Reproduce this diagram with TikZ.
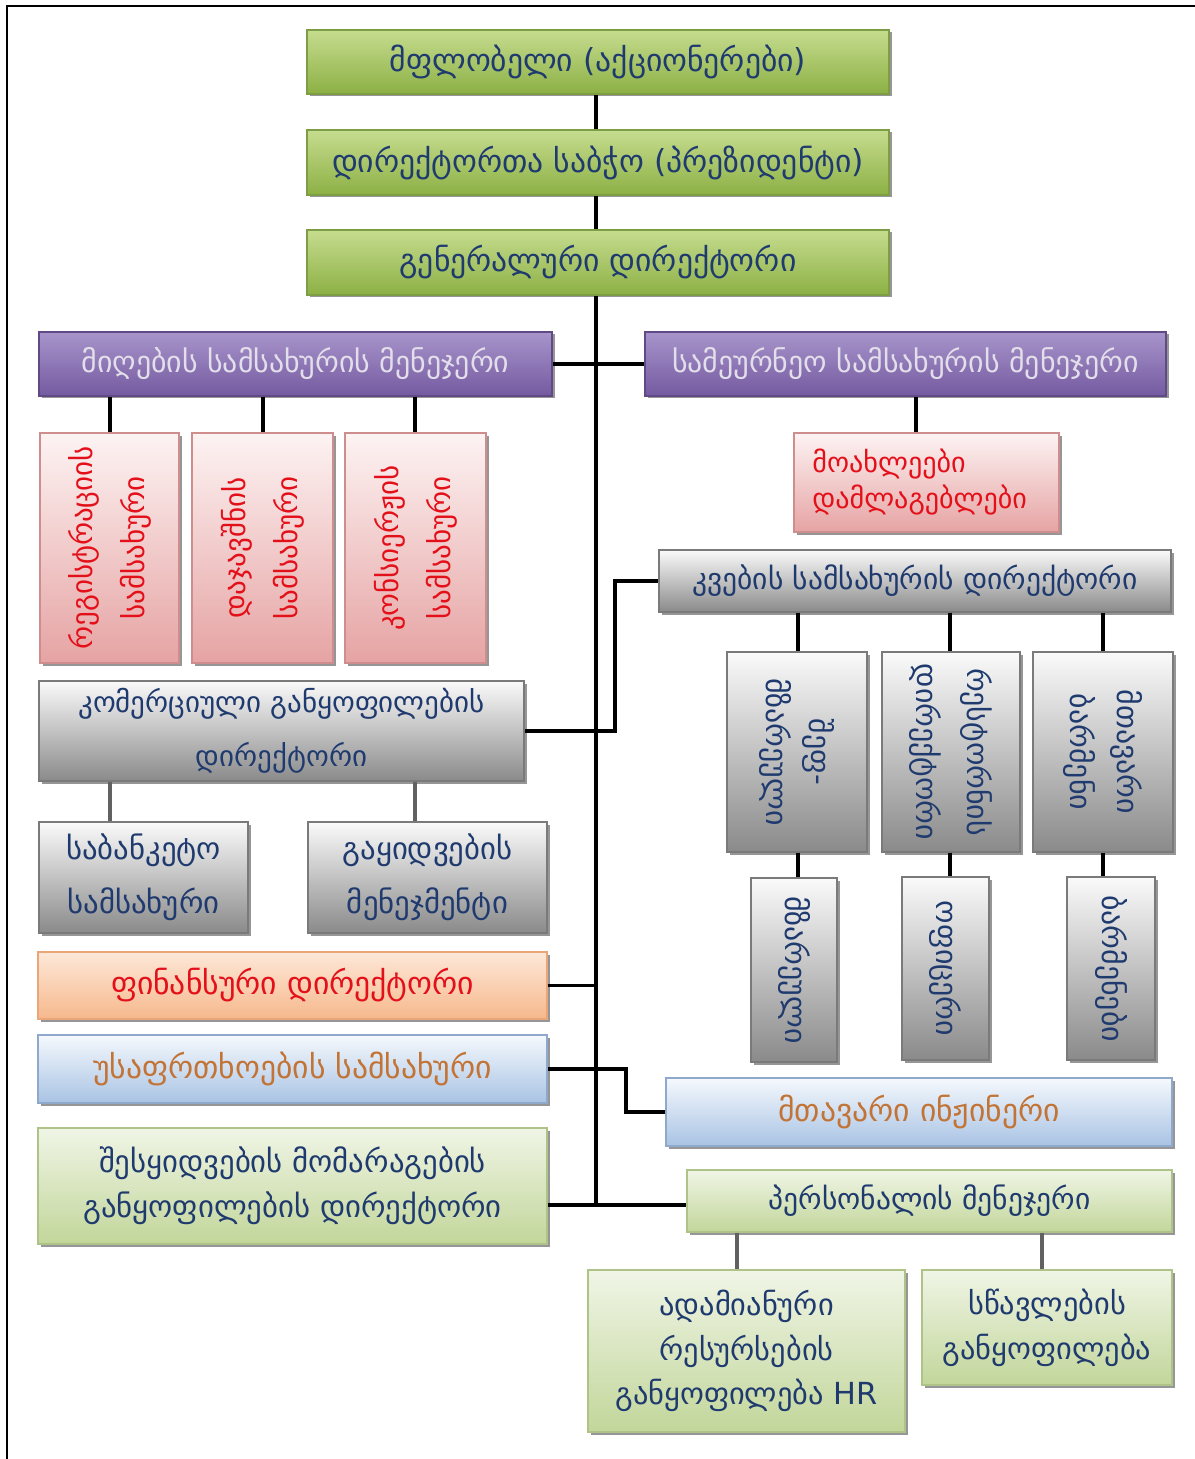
\documentclass[tikz,border=0pt]{standalone}
\usepackage{fontspec}
\setmainfont{DejaVu Sans}
\usetikzlibrary{shadows,calc}

\definecolor{navy}{HTML}{1F3A6E}
\definecolor{gTop}{HTML}{C6DC8F}
\definecolor{gBot}{HTML}{8CB044}
\definecolor{gDraw}{HTML}{7E9E45}
\definecolor{pTop}{HTML}{A895CB}
\definecolor{pBot}{HTML}{7459A0}
\definecolor{pDraw}{HTML}{5F4A85}
\definecolor{pText}{HTML}{E2DEEA}
\definecolor{rTop}{HTML}{FDF3F3}
\definecolor{rBot}{HTML}{E6A3A3}
\definecolor{rDraw}{HTML}{CF8E8E}
\definecolor{rText}{HTML}{E3101A}
\definecolor{kTop}{HTML}{FAFAFA}
\definecolor{kBot}{HTML}{8A8A8A}
\definecolor{kDraw}{HTML}{7A7A7A}
\definecolor{oTop}{HTML}{FDE8D8}
\definecolor{oBot}{HTML}{F6B88C}
\definecolor{oDraw}{HTML}{E8A679}
\definecolor{bTop}{HTML}{F5F9FD}
\definecolor{bBot}{HTML}{A9C3E4}
\definecolor{bDraw}{HTML}{8FA9CC}
\definecolor{bText}{HTML}{C27436}
\definecolor{lTop}{HTML}{F0F5E6}
\definecolor{lBot}{HTML}{C2D69A}
\definecolor{lDraw}{HTML}{AFC389}

\tikzset{
  box/.style={rectangle, inner sep=2pt, line width=0.6pt,
    drop shadow={shadow xshift=0.05cm, shadow yshift=-0.05cm, opacity=0.55, fill=black!75}},
  topgreen/.style={box, top color=gTop, bottom color=gBot, draw=gDraw, text=navy, align=center,
    font=\fontsize{18}{22}\selectfont},
  purplebox/.style={box, top color=pTop, bottom color=pBot, draw=pDraw, text=pText, align=center,
    font=\fontsize{17}{21}\selectfont},
  redbox/.style={box, top color=rTop, bottom color=rBot, draw=rDraw},
  graybox/.style={box, top color=kTop, bottom color=kBot, draw=kDraw, text=navy},
  orangebox/.style={box, top color=oTop, bottom color=oBot, draw=oDraw, text=rText, align=center,
    font=\fontsize{18}{22}\selectfont},
  bluebox/.style={box, top color=bTop, bottom color=bBot, draw=bDraw, text=bText, align=center,
    font=\fontsize{18}{22}\selectfont},
  lgreenbox/.style={box, top color=lTop, bottom color=lBot, draw=lDraw, text=navy, align=center},
  rtxt/.style={text=rText, align=center, inner sep=0pt},
  ktxt/.style={text=navy, align=center, inner sep=0pt},
  conn/.style={draw=black, line width=2.2pt},
  subconn/.style={draw=black!62, line width=2.2pt},
}

% style, name, x1, y1, x2, y2, text
\newcommand{\mkbox}[7]{\node[#1, minimum width={(#5-#3)*0.02cm}, minimum height={(#6-#4)*0.02cm}] (#2) at ({(#3+#5)/2},{(#4+#6)/2}) {#7};}

\begin{document}
\begin{tikzpicture}[x=0.02cm,y=-0.02cm]
\useasboundingbox (0,0) rectangle (1195,1459);
% frame
\draw[line width=1.3pt] (7,1459) -- (7,6) -- (1195,6);

% top chain
\mkbox{topgreen}{own}{307}{30}{889}{94}{მფლობელი (აქციონერები)}
\mkbox{topgreen}{board}{307}{130}{889}{195}{დირექტორთა საბჭო (პრეზიდენტი)}
\mkbox{topgreen}{gen}{307}{230}{889}{295}{გენერალური დირექტორი}

% purple
\mkbox{purplebox}{recv}{39}{332}{552}{396}{მიღების სამსახურის მენეჯერი}
\mkbox{purplebox}{house}{645}{332}{1166}{396}{სამეურნეო სამსახურის მენეჯერი}

% red vertical boxes
\mkbox{redbox}{regi}{40}{433}{179}{663}{}
\mkbox{redbox}{book}{192}{433}{333}{663}{}
\mkbox{redbox}{conc}{345}{433}{486}{663}{}
\node[rtxt, rotate=90, font=\fontsize{16.5}{29.5}\selectfont] (tregi) at (regi) {რეგისტრაციის\\სამსახური};
\node[rtxt, rotate=90, font=\fontsize{16.5}{29.5}\selectfont] (tbook) at (book) {დაჯავშნის\\სამსახური};
\node[rtxt, rotate=90, font=\fontsize{16.5}{29.5}\selectfont] (tconc) at (conc) {კონსიერჟის\\სამსახური};

% maids
\node[redbox, minimum width={265*0.02cm}, minimum height={99*0.02cm}] (maid) at (926.5,482.5) {};
\node[rtxt, align=left, anchor=west, font=\fontsize{16}{21}\selectfont] (tmaid) at (812,482) {მოახლეები\\დამლაგებლები};

% food service
\mkbox{graybox, align=center, font=\fontsize{16.8}{20}\selectfont}{food}{659}{550}{1171}{612}{კვების სამსახურის დირექტორი}
\mkbox{graybox}{chef}{727}{652}{867}{852}{}
\mkbox{graybox}{rest}{882}{652}{1020}{852}{}
\mkbox{graybox}{hbar}{1033}{652}{1173}{852}{}
\mkbox{graybox}{cook}{751}{878}{837}{1062}{}
\mkbox{graybox}{wait}{902}{877}{989}{1060}{}
\mkbox{graybox}{bars}{1067}{877}{1155}{1060}{}
\node[ktxt, rotate=-90, font=\fontsize{17}{25}\selectfont] (tchef) at (chef) {შეფ-\\მზარეული};
\node[ktxt, rotate=-90, font=\fontsize{17}{29}\selectfont] (trest) at (rest) {რესტორნის\\დირექტორი};
\node[ktxt, rotate=-90, font=\fontsize{17}{27}\selectfont] (thbar) at (hbar) {მთავარი\\ბარმენი};
\node[ktxt, rotate=-90, font=\fontsize{17}{20}\selectfont] (tcook) at (cook) {მზარეული};
\node[ktxt, rotate=-90, font=\fontsize{17}{20}\selectfont] (twait) at (wait) {ოფიცერი};
\node[ktxt, rotate=-90, font=\fontsize{17}{20}\selectfont] (tbars) at (bars) {ბარმენები};

% commercial
\mkbox{graybox, align=center, font=\fontsize{16.5}{31}\selectfont}{comm}{39}{681}{524}{781}{კომერციული განყოფილების\\დირექტორი}
\mkbox{graybox, align=center, font=\fontsize{17.5}{31}\selectfont}{banq}{39}{822}{248}{933}{საბანკეტო\\სამსახური}
\mkbox{graybox, align=center, font=\fontsize{17.5}{31}\selectfont}{sale}{308}{822}{547}{933}{გაყიდვების\\მენეჯმენტი}

% finance, security, engineer
\mkbox{orangebox}{fin}{38}{952}{547}{1019}{ფინანსური დირექტორი}
\mkbox{bluebox}{sec}{38}{1035}{547}{1103}{უსაფრთხოების სამსახური}
\mkbox{bluebox}{eng}{666}{1078}{1172}{1146}{მთავარი ინჟინერი}

% purchasing, personnel
\mkbox{lgreenbox, font=\fontsize{17.5}{25.5}\selectfont}{purch}{38}{1128}{547}{1244}{შესყიდვების მომარაგების\\განყოფილების დირექტორი}
\mkbox{lgreenbox, font=\fontsize{16.8}{20}\selectfont}{pers}{687}{1170}{1172}{1232}{პერსონალის მენეჯერი}
\mkbox{lgreenbox, font=\fontsize{17.3}{25.5}\selectfont}{hr}{588}{1270}{905}{1432}{ადამიანური\\რესურსების\\განყოფილება HR}
\mkbox{lgreenbox, font=\fontsize{17.3}{25.5}\selectfont}{learn}{922}{1270}{1172}{1385}{სწავლების\\განყოფილება}

% junction coordinates
\coordinate (trunkx) at (596,0);
\coordinate (foodj) at (615,0);
\coordinate (secj) at (626,0);
\coordinate (trunkend) at (596,1205);

% connectors
\draw[conn] (own.south -| trunkx) -- (board.north -| trunkx);
\draw[conn] (board.south -| trunkx) -- (gen.north -| trunkx);
\draw[conn] (gen.south -| trunkx) -- (trunkend);
\draw[conn] (recv.east) -- (house.west);
\draw[conn] (recv.south -| 110,0) -- (regi.north -| 110,0);
\draw[conn] (recv.south -| 263,0) -- (book.north -| 263,0);
\draw[conn] (recv.south -| 415,0) -- (conc.north -| 415,0);
\draw[conn] (house.south -| 916,0) -- (maid.north -| 916,0);
\draw[conn] (comm.east) -- (comm.east -| foodj) |- (food.west);
\draw[conn] (food.south -| 798,0) -- (chef.north -| 798,0);
\draw[conn] (food.south -| 950,0) -- (rest.north -| 950,0);
\draw[conn] (food.south -| 1103,0) -- (hbar.north -| 1103,0);
\draw[conn] (chef.south -| 798,0) -- (cook.north -| 798,0);
\draw[conn] (rest.south -| 950,0) -- (wait.north -| 950,0);
\draw[conn] (hbar.south -| 1103,0) -- (bars.north -| 1103,0);
\draw[subconn] (comm.south -| 110,0) -- (banq.north -| 110,0);
\draw[subconn] (comm.south -| 415,0) -- (sale.north -| 415,0);
\draw[conn] (fin.east) -- (fin.east -| trunkx);
\draw[conn] (sec.east) -- (sec.east -| secj) |- (eng.west);
\draw[conn] (purch.east |- trunkend) -- (pers.west |- trunkend);
\draw[subconn] (pers.south -| 737,0) -- (hr.north -| 737,0);
\draw[subconn] (pers.south -| 1042,0) -- (learn.north -| 1042,0);
\end{tikzpicture}
\end{document}
